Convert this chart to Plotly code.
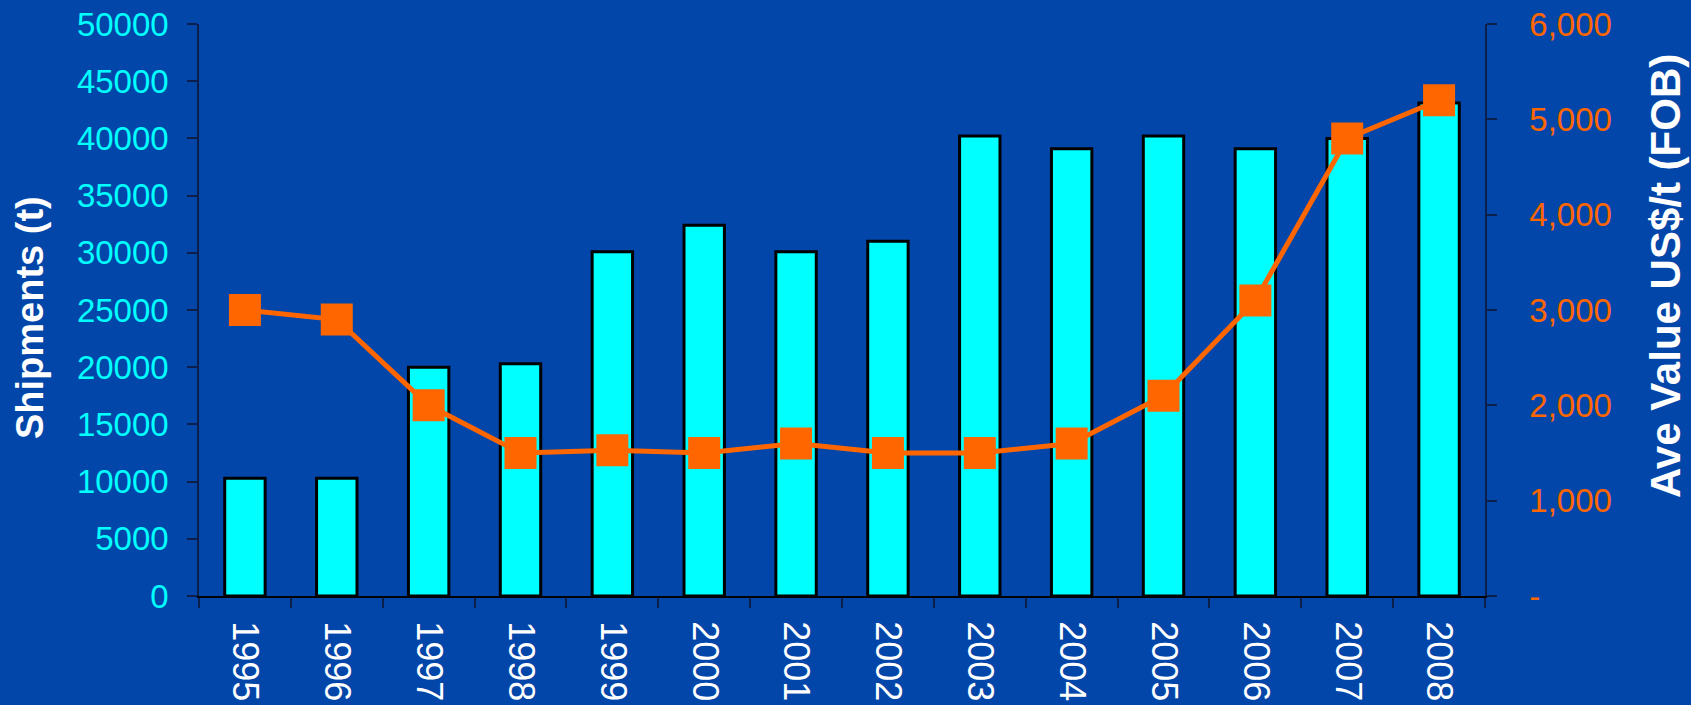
import plotly.graph_objects as go

years = ["1995", "1996", "1997", "1998", "1999", "2000", "2001", "2002",
         "2003", "2004", "2005", "2006", "2007", "2008"]
shipments = [10300, 10300, 20000, 20300, 30100, 32400, 30100, 31000,
             40200, 39100, 40200, 39100, 40000, 43100]
ave_value = [3000, 2900, 2000, 1500, 1530, 1500, 1600, 1500,
             1500, 1600, 2100, 3100, 4800, 5200]

left_ticks = [0, 5000, 10000, 15000, 20000, 25000, 30000, 35000, 40000, 45000, 50000]
right_ticks = [0, 1000, 2000, 3000, 4000, 5000, 6000]
right_ticktext = ["-", "1,000", "2,000", "3,000", "4,000", "5,000", "6,000"]

BG = "#0346AA"
CYAN = "#00FFFF"
ORANGE = "#FF6600"
AXIS = "#0B1F4A"

fig = go.Figure()
fig.add_trace(go.Bar(
    x=years, y=shipments, width=0.44,
    marker=dict(color=CYAN, line=dict(color="black", width=3)),
    yaxis="y", showlegend=False,
))
fig.add_trace(go.Scatter(
    x=years, y=ave_value, mode="lines+markers",
    line=dict(color=ORANGE, width=5),
    marker=dict(symbol="square", size=32, color=ORANGE),
    yaxis="y2", showlegend=False,
))

font_family = "Liberation Sans, Arial, sans-serif"

fig.update_layout(
    width=1691, height=705,
    margin=dict(l=199, r=206, t=24, b=109, autoexpand=False),
    paper_bgcolor=BG, plot_bgcolor=BG,
    font=dict(family=font_family),
    xaxis=dict(
        type="category", range=[-0.5, len(years) - 0.5],
        tickson="boundaries", ticks="outside", ticklen=10,
        tickcolor=AXIS, tickwidth=2, showline=True, linecolor="black", linewidth=2,
        showgrid=False, tickangle=90, automargin=False,
        tickfont=dict(color="white", size=36, family=font_family),
        ticklabelstandoff=16,
    ),
    yaxis=dict(
        range=[0, 50000], tickvals=left_ticks, tickformat="d",
        ticks="outside", ticklen=10, tickcolor=AXIS, tickwidth=2,
        showline=True, linecolor=AXIS, linewidth=1.5, showgrid=False,
        zeroline=False, automargin=False,
        tickfont=dict(color=CYAN, size=33, family=font_family),
        ticklabelstandoff=12,
    ),
    yaxis2=dict(
        range=[0, 6000], tickvals=right_ticks, ticktext=right_ticktext,
        overlaying="y", side="right",
        ticks="outside", ticklen=10, tickcolor=AXIS, tickwidth=2,
        showline=True, linecolor=AXIS, linewidth=1.5, showgrid=False,
        zeroline=False, automargin=False,
        tickfont=dict(color=ORANGE, size=33, family=font_family),
        ticklabelstandoff=26,
    ),
    annotations=[
        dict(text="<b>Shipments (t)</b>", xref="paper", yref="paper",
             x=(30 - 199) / 1286, y=(596 - 318) / 572, textangle=-90,
             showarrow=False, xanchor="center", yanchor="middle",
             font=dict(color="white", size=38, family=font_family)),
        dict(text="<b>Ave Value US$/t (FOB)</b>", xref="paper", yref="paper",
             x=(1665 - 199) / 1286, y=(596 - 276) / 572, textangle=-90,
             showarrow=False, xanchor="center", yanchor="middle",
             font=dict(color="white", size=42, family=font_family)),
    ],
)

fig.write_html(
    "out.html",
    config={"displayModeBar": False},
    post_script="document.body.style.margin='0';document.body.style.background='%s';" % BG,
)
